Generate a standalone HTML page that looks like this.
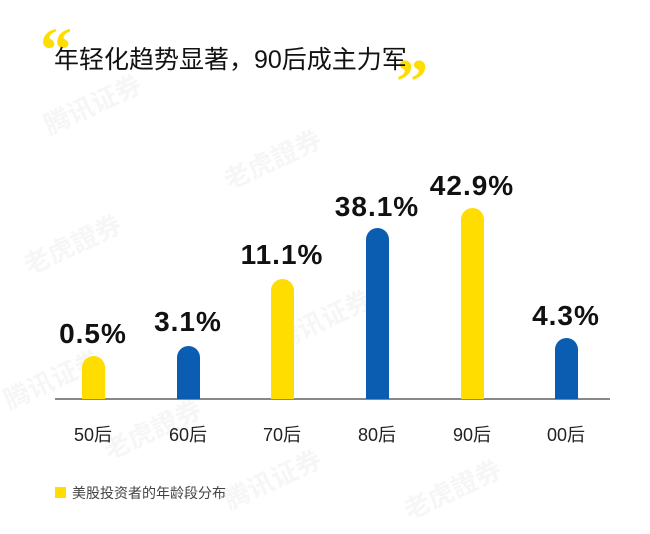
<!DOCTYPE html>
<html><head><meta charset="utf-8"><style>
body{margin:0;width:650px;height:534px;background:#fff;overflow:hidden;font-family:"Liberation Sans","Noto Sans CJK SC",sans-serif;position:relative}
.a{position:absolute}
.bar{position:absolute;width:23px;border-radius:11.5px 11.5px 0 0;bottom:135px}
.y{background:#FFDD00}.b{background:#0A5DB0}
.v{position:absolute;width:120px;text-align:center;font-weight:bold;font-size:28px;color:#111;font-family:"Liberation Sans",sans-serif;letter-spacing:1px}
.c{position:absolute;width:100px;text-align:center;font-size:18px;color:#222;top:421px}
.q{position:absolute;color:#FFDD00;font-family:"Liberation Serif",serif;font-weight:bold;font-size:64px;line-height:1}
.wm{position:absolute;color:#f6f6f6;font-size:26px;font-weight:bold;transform:rotate(-25deg)}
</style></head><body>
<div class="wm" style="left:40px;top:85px">腾讯证券</div>
<div class="wm" style="left:220px;top:140px">老虎證券</div>
<div class="wm" style="left:20px;top:225px">老虎證券</div>
<div class="wm" style="left:270px;top:300px">腾讯证券</div>
<div class="wm" style="left:0px;top:360px">腾讯证券</div>
<div class="wm" style="left:100px;top:410px">老虎證券</div>
<div class="wm" style="left:220px;top:460px">腾讯证券</div>
<div class="wm" style="left:400px;top:470px">老虎證券</div>
<div class="q" style="left:40px;top:18px">“</div>
<div class="q" style="left:396px;top:50px">”</div>
<div class="a" style="left:54px;top:40px;font-size:25px;color:#111;white-space:nowrap">年轻化趋势显著，90后成主力军</div>
<div class="a" style="left:55px;top:398px;width:555px;height:2px;background:#888"></div>
<div class="bar y" style="left:82px;height:43px"></div>
<div class="bar b" style="left:177px;height:53px"></div>
<div class="bar y" style="left:271px;height:120px"></div>
<div class="bar b" style="left:366px;height:171px"></div>
<div class="bar y" style="left:461px;height:191px"></div>
<div class="bar b" style="left:555px;height:61px"></div>
<div class="v" style="left:33px;top:318px">0.5%</div>
<div class="v" style="left:128px;top:306px">3.1%</div>
<div class="v" style="left:222px;top:239px">11.1%</div>
<div class="v" style="left:317px;top:191px">38.1%</div>
<div class="v" style="left:412px;top:170px">42.9%</div>
<div class="v" style="left:506px;top:300px">4.3%</div>
<div class="c" style="left:43px">50后</div>
<div class="c" style="left:138px">60后</div>
<div class="c" style="left:232px">70后</div>
<div class="c" style="left:327px">80后</div>
<div class="c" style="left:422px">90后</div>
<div class="c" style="left:516px">00后</div>
<div class="a" style="left:55px;top:487px;width:11px;height:11px;background:#FFDD00"></div>
<div class="a" style="left:72px;top:483px;font-size:14px;color:#444">美股投资者的年龄段分布</div>
</body></html>
